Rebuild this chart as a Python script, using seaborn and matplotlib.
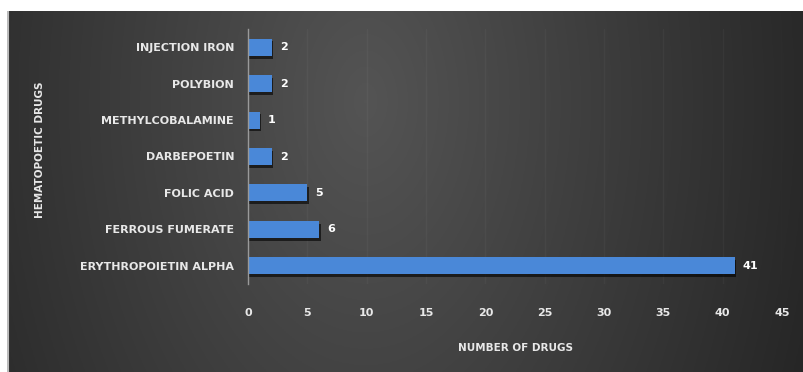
import numpy as np
import pandas as pd
import matplotlib
matplotlib.use("Agg")
import matplotlib.pyplot as plt
import matplotlib.patheffects as pe
import seaborn as sns

drugs = ["INJECTION IRON", "POLYBION", "METHYLCOBALAMINE", "DARBEPOETIN",
         "FOLIC ACID", "FERROUS FUMERATE", "ERYTHROPOIETIN ALPHA"]
counts = [2, 2, 1, 2, 5, 6, 41]
x_ticks = [0, 5, 10, 15, 20, 25, 30, 35, 40, 45]

sns.set_theme(style="dark")
plt.rcParams["font.family"] = ["DejaVu Sans"]

W, H = 804, 372
fig = plt.figure(figsize=(W / 100, H / 100), dpi=100, facecolor="white")

# Dark panel with a soft, mostly horizontal gradient
bg = fig.add_axes([7 / W, 0, 797 / W, 361 / H])
bg.set_axis_off()
gx, gy = np.meshgrid(np.linspace(0, 1, 400), np.linspace(0, 1, 200))
r = np.sqrt(((gx - 0.45) / 0.62) ** 2 + ((gy - 0.25) / 2.2) ** 2)
shade = np.clip(0.33 - 0.19 * r, 0.14, 0.34)
bg.imshow(np.dstack([shade] * 3), aspect="auto", extent=[0, 1, 0, 1], origin="upper")
bg.plot([0.0012, 0.0012], [0, 1], color="#bbbbbb", lw=1.5, transform=bg.transAxes)

ax = fig.add_axes([248 / W, 1 - 284 / H, 534 / W, (284 - 29) / H])
ax.set_facecolor("none")

df = pd.DataFrame({"drug": drugs, "count": counts})
sns.barplot(data=df, x="count", y="drug", orient="h", color="#4a88d8",
            width=0.47, saturation=1, linewidth=0, ax=ax, zorder=3)
for bar in ax.patches:
    bar.set_path_effects([pe.SimplePatchShadow(offset=(1, -2), shadow_rgbFace="black", alpha=0.6),
                          pe.Normal()])

for i, v in enumerate(counts):
    ax.text(v + 0.7, i, str(v), color="white", fontsize=8, fontweight="bold",
            va="center", ha="left")

ax.set_xlim(0, 45)
ax.set_xticks(x_ticks)
ax.grid(axis="x", color="white", alpha=0.035, lw=1)
ax.grid(axis="y", visible=False)
for s in ["top", "right", "bottom"]:
    ax.spines[s].set_visible(False)
ax.spines["left"].set_color("#9a9a9a")
ax.spines["left"].set_linewidth(1)
ax.spines["left"].set_zorder(4)
ax.tick_params(axis="both", length=0, colors="#e8e8e8", labelsize=8)
ax.tick_params(axis="x", pad=17)
ax.tick_params(axis="y", pad=10)
for lab in ax.get_xticklabels() + ax.get_yticklabels():
    lab.set_fontweight("bold")

ax.set_xlabel("NUMBER OF DRUGS", color="#e8e8e8", fontsize=7.5, fontweight="bold", labelpad=18)
ax.set_ylabel("")
fig.text(40 / W, 1 - 150 / H, "HEMATOPOETIC DRUGS", rotation=90, color="#e8e8e8",
         fontsize=7.5, fontweight="bold", ha="center", va="center")

fig.savefig("out.png", dpi=100, facecolor="white")
